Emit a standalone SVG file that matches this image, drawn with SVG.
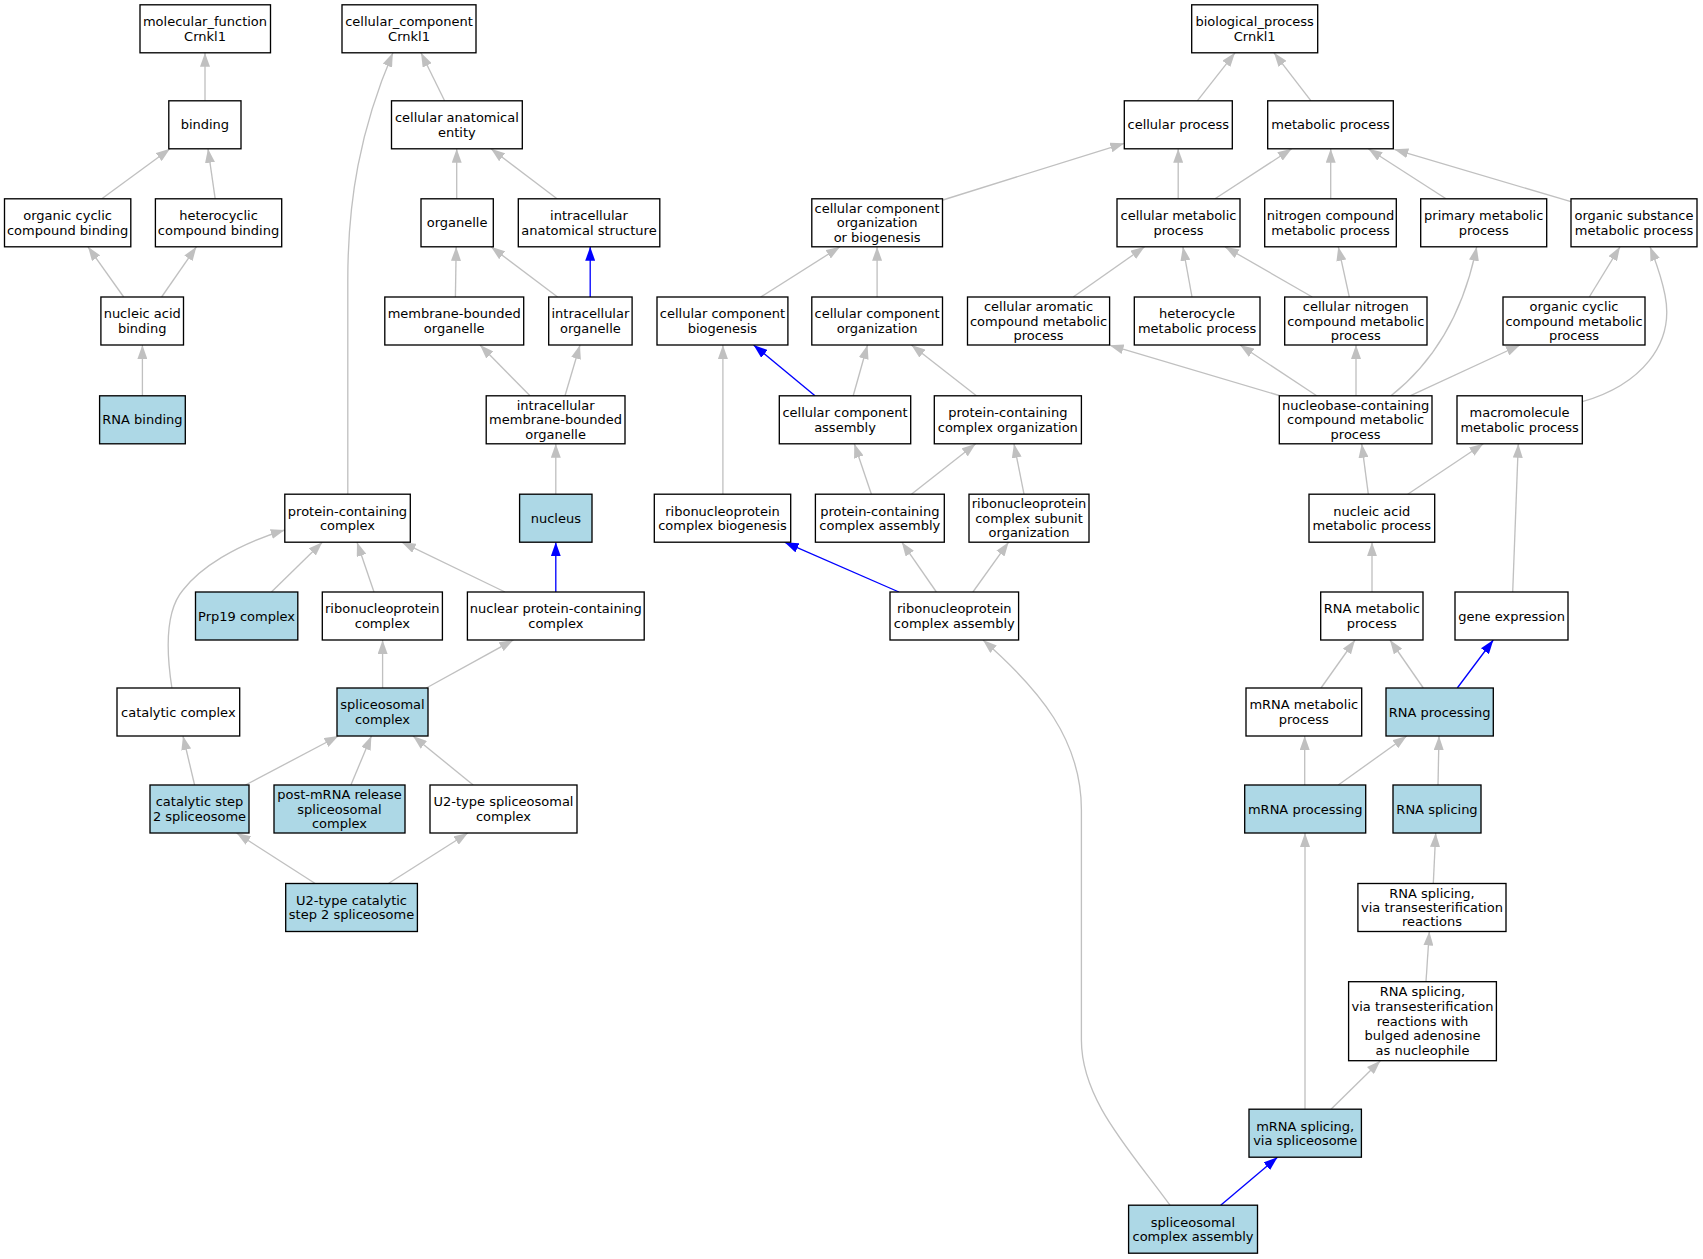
<svg xmlns="http://www.w3.org/2000/svg" width="1703" height="1259" viewBox="0 0 1703 1259">
<style>
.n rect{fill:#ffffff;stroke:#000000;stroke-width:1.33}
.b rect{fill:#add8e6;stroke:#000000;stroke-width:1.33}
text{font-family:"DejaVu Sans","Liberation Sans",sans-serif;font-size:13px;text-anchor:middle;fill:#000000}
#edges path{fill:none;stroke:#c0c0c0;stroke-width:1.33;marker-end:url(#ag)}
#edges path.bl{stroke:#0000ff;marker-end:url(#ab)}
</style>
<defs>
<marker id="ag" markerUnits="userSpaceOnUse" markerWidth="14" markerHeight="10" refX="14" refY="5" orient="auto"><path d="M0,0 L14,5 L0,10 z" fill="#c0c0c0"/></marker>
<marker id="ab" markerUnits="userSpaceOnUse" markerWidth="14" markerHeight="10" refX="14" refY="5" orient="auto"><path d="M0,0 L14,5 L0,10 z" fill="#0000ff"/></marker>
</defs>
<rect x="0" y="0" width="1703" height="1259" fill="#ffffff"/>
<g id="edges">
<path d="M205,100.8 L205,52.8"/>
<path d="M101.8,198.8 L170,148.8"/>
<path d="M215.2,198.8 L208,148.8"/>
<path d="M123.7,297 L88,246.8"/>
<path d="M161.6,297 L196.4,246.8"/>
<path d="M142.4,395.8 L142.4,345"/>
<path d="M444.6,100.8 L421,52.8"/>
<path d="M347.8,494.2 L347.8,280 C347.8,200 360,130 392.9,52.8"/>
<path d="M456.7,198.8 L456.7,148.8"/>
<path d="M557,198.8 L491,148.8"/>
<path d="M455.4,297 L456.2,246.8"/>
<path d="M557.6,297 L491,246.8"/>
<path class="bl" d="M590.2,297 L590.2,246.8"/>
<path d="M530,395.8 L480,345"/>
<path d="M565,395.8 L580,345"/>
<path d="M555.8,494.2 L555.8,443.8"/>
<path d="M271.4,592 L322.3,542.2"/>
<path d="M374,592 L357,542.2"/>
<path d="M505,592 L401.8,542.2"/>
<path class="bl" d="M555.8,592 L555.8,542.2"/>
<path d="M171.9,688 C166,650 166,610 183,590 C200,568 235,545 284.8,530"/>
<path d="M382.6,688 L382.6,640"/>
<path d="M426.3,688 L513.4,640"/>
<path d="M194.6,785 L183,736"/>
<path d="M245.5,785 L338.4,736"/>
<path d="M350.9,785 L371.4,736"/>
<path d="M473.2,785 L413,736"/>
<path d="M315.2,883.5 L236.6,833"/>
<path d="M388.4,883.5 L467.9,833"/>
<path d="M1197.3,100.8 L1235,52.8"/>
<path d="M1311,100.8 L1274,52.8"/>
<path d="M942.9,200 L1124.3,143.3"/>
<path d="M1178.2,198.8 L1178.2,148.8"/>
<path d="M1215,198.8 L1291.7,148.8"/>
<path d="M1330.7,198.8 L1330.7,148.8"/>
<path d="M1446,198.8 L1368.3,148.8"/>
<path d="M1571,201.7 L1394.3,149.3"/>
<path d="M760.7,297 L840,246.8"/>
<path d="M877.1,297 L877.1,246.8"/>
<path d="M1073.2,297 L1144.6,246.8"/>
<path d="M1192,297 L1182.9,246.8"/>
<path d="M1312.3,297 L1225,246.8"/>
<path d="M1349.3,297 L1338.3,246.8"/>
<path class="bl" d="M815,395.8 L753.6,345"/>
<path d="M853.2,395.8 L867.5,345"/>
<path d="M976.4,395.8 L911.4,345"/>
<path d="M722.9,494.2 L722.9,345"/>
<path d="M1279.3,395.5 L1109.6,345.2"/>
<path d="M1316.7,395.8 L1240,345"/>
<path d="M1356,395.8 L1356,345"/>
<path d="M1391,395.8 C1430,365 1462,320 1476.7,246.8"/>
<path d="M1410,395.8 L1520,345"/>
<path d="M1589.3,297 L1620,246.8"/>
<path d="M1582.3,401.7 C1640,385 1675,345 1665,295 C1662,280 1656,262 1650,246.8"/>
<path d="M871.4,494.2 L854.3,443.8"/>
<path d="M911.4,494.2 L975.7,443.8"/>
<path d="M1024,494.2 L1014,443.8"/>
<path d="M1368.3,494.2 L1361.7,443.8"/>
<path d="M1407.7,494.2 L1483.3,443.8"/>
<path class="bl" d="M898.9,592 L784.6,542.2"/>
<path d="M936.4,592 L901.8,542.2"/>
<path d="M972.9,592 L1008.6,542.2"/>
<path d="M1372,592 L1372,542.2"/>
<path d="M1512.7,592 L1518.3,443.8"/>
<path d="M1321,688 L1355,640"/>
<path d="M1423.3,688 L1390,640"/>
<path class="bl" d="M1457.3,688 L1493.3,640"/>
<path d="M1304.7,785 L1304.7,736"/>
<path d="M1338.3,785 L1406.7,736"/>
<path d="M1438,785 L1439,736"/>
<path d="M1433.3,883.5 L1435.7,833"/>
<path d="M1426,981.7 L1429.3,931.5"/>
<path d="M1305,1109.2 L1305,833"/>
<path d="M1331,1109.2 L1380.4,1060.7"/>
<path class="bl" d="M1220.7,1205.2 L1277.5,1157.2"/>
<path d="M1170,1205.2 C1130,1150 1081.4,1100 1081.4,1040 L1081.4,810 C1081.4,740 1040,690 983,640"/>
</g>
<g id="mf" class="n"><rect x="140" y="4.8" width="130.5" height="48"/><text x="205"><tspan x="205" y="26.1">molecular_function</tspan><tspan x="205" y="40.5">Crnkl1</tspan></text></g>
<g id="cc" class="n"><rect x="342" y="4.8" width="134" height="48"/><text><tspan x="409" y="26.1">cellular_component</tspan><tspan x="409" y="40.5">Crnkl1</tspan></text></g>
<g id="bp" class="n"><rect x="1191.7" y="4.8" width="126" height="48"/><text><tspan x="1254.7" y="26.1">biological_process</tspan><tspan x="1254.7" y="40.5">Crnkl1</tspan></text></g>
<g id="binding" class="n"><rect x="168.8" y="100.8" width="72.2" height="48"/><text x="204.9" y="129.3">binding</text></g>
<g id="cae" class="n"><rect x="391.5" y="100.8" width="130.8" height="48"/><text><tspan x="456.9" y="122.1">cellular anatomical</tspan><tspan x="456.9" y="136.5">entity</tspan></text></g>
<g id="cp" class="n"><rect x="1124.3" y="100.8" width="108" height="48"/><text x="1178.3" y="129.3">cellular process</text></g>
<g id="mp" class="n"><rect x="1267.7" y="100.8" width="125.6" height="48"/><text x="1330.5" y="129.3">metabolic process</text></g>
<g id="ocb" class="n"><rect x="4.5" y="198.8" width="126.3" height="48"/><text><tspan x="67.6" y="220.1">organic cyclic</tspan><tspan x="67.6" y="234.5">compound binding</tspan></text></g>
<g id="hcb" class="n"><rect x="155.4" y="198.8" width="126.3" height="48"/><text><tspan x="218.5" y="220.1">heterocyclic</tspan><tspan x="218.5" y="234.5">compound binding</tspan></text></g>
<g id="organelle" class="n"><rect x="421" y="198.8" width="72.3" height="48"/><text x="457.1" y="227.3">organelle</text></g>
<g id="ias" class="n"><rect x="518.3" y="198.8" width="141.5" height="48"/><text><tspan x="589" y="220.1">intracellular</tspan><tspan x="589" y="234.5">anatomical structure</tspan></text></g>
<g id="ccob" class="n"><rect x="811.8" y="198.8" width="130.7" height="48"/><text><tspan x="877.1" y="212.9">cellular component</tspan><tspan x="877.1" y="227.3">organization</tspan><tspan x="877.1" y="241.7">or biogenesis</tspan></text></g>
<g id="cmp" class="n"><rect x="1117" y="198.8" width="123" height="48"/><text><tspan x="1178.5" y="220.1">cellular metabolic</tspan><tspan x="1178.5" y="234.5">process</tspan></text></g>
<g id="ncmp" class="n"><rect x="1264.7" y="198.8" width="131.6" height="48"/><text><tspan x="1330.5" y="220.1">nitrogen compound</tspan><tspan x="1330.5" y="234.5">metabolic process</tspan></text></g>
<g id="pmp" class="n"><rect x="1420.7" y="198.8" width="126" height="48"/><text><tspan x="1483.7" y="220.1">primary metabolic</tspan><tspan x="1483.7" y="234.5">process</tspan></text></g>
<g id="osmp" class="n"><rect x="1571" y="198.8" width="126" height="48"/><text><tspan x="1634" y="220.1">organic substance</tspan><tspan x="1634" y="234.5">metabolic process</tspan></text></g>
<g id="nab" class="n"><rect x="100.9" y="297" width="82.6" height="48"/><text><tspan x="142.2" y="318.3">nucleic acid</tspan><tspan x="142.2" y="332.7">binding</tspan></text></g>
<g id="mbo" class="n"><rect x="384.8" y="297" width="138.9" height="48"/><text><tspan x="454.2" y="318.3">membrane-bounded</tspan><tspan x="454.2" y="332.7">organelle</tspan></text></g>
<g id="io" class="n"><rect x="548.7" y="297" width="83.4" height="48"/><text><tspan x="590.4" y="318.3">intracellular</tspan><tspan x="590.4" y="332.7">organelle</tspan></text></g>
<g id="ccb" class="n"><rect x="657" y="297" width="130.9" height="48"/><text><tspan x="722.4" y="318.3">cellular component</tspan><tspan x="722.4" y="332.7">biogenesis</tspan></text></g>
<g id="cco" class="n"><rect x="811.8" y="297" width="130.7" height="48"/><text><tspan x="877.1" y="318.3">cellular component</tspan><tspan x="877.1" y="332.7">organization</tspan></text></g>
<g id="cacmp" class="n"><rect x="967.5" y="297" width="142.1" height="48"/><text><tspan x="1038.5" y="311.1">cellular aromatic</tspan><tspan x="1038.5" y="325.5">compound metabolic</tspan><tspan x="1038.5" y="339.9">process</tspan></text></g>
<g id="hmp" class="n"><rect x="1134.3" y="297" width="125.7" height="48"/><text><tspan x="1197.1" y="318.3">heterocycle</tspan><tspan x="1197.1" y="332.7">metabolic process</tspan></text></g>
<g id="cncmp" class="n"><rect x="1284.7" y="297" width="142.3" height="48"/><text><tspan x="1355.8" y="311.1">cellular nitrogen</tspan><tspan x="1355.8" y="325.5">compound metabolic</tspan><tspan x="1355.8" y="339.9">process</tspan></text></g>
<g id="occmp" class="n"><rect x="1503" y="297" width="142" height="48"/><text><tspan x="1574" y="311.1">organic cyclic</tspan><tspan x="1574" y="325.5">compound metabolic</tspan><tspan x="1574" y="339.9">process</tspan></text></g>
<g id="rnab" class="b"><rect x="99.6" y="395.8" width="85.7" height="48"/><text x="142.4" y="424.3">RNA binding</text></g>
<g id="imbo" class="n"><rect x="486.2" y="395.8" width="138.8" height="48"/><text><tspan x="555.6" y="409.9">intracellular</tspan><tspan x="555.6" y="424.3">membrane-bounded</tspan><tspan x="555.6" y="438.7">organelle</tspan></text></g>
<g id="cca" class="n"><rect x="779.3" y="395.8" width="131.4" height="48"/><text><tspan x="845" y="417.1">cellular component</tspan><tspan x="845" y="431.5">assembly</tspan></text></g>
<g id="pcco" class="n"><rect x="934.3" y="395.8" width="147.1" height="48"/><text><tspan x="1007.8" y="417.1">protein-containing</tspan><tspan x="1007.8" y="431.5">complex organization</tspan></text></g>
<g id="nbcmp" class="n"><rect x="1279.3" y="395.8" width="152.7" height="48"/><text><tspan x="1355.6" y="409.9">nucleobase-containing</tspan><tspan x="1355.6" y="424.3">compound metabolic</tspan><tspan x="1355.6" y="438.7">process</tspan></text></g>
<g id="mmp" class="n"><rect x="1457" y="395.8" width="125.3" height="48"/><text><tspan x="1519.6" y="417.1">macromolecule</tspan><tspan x="1519.6" y="431.5">metabolic process</tspan></text></g>
<g id="pcc" class="n"><rect x="284.8" y="494.2" width="125.5" height="48"/><text><tspan x="347.5" y="515.5">protein-containing</tspan><tspan x="347.5" y="529.9">complex</tspan></text></g>
<g id="nucleus" class="b"><rect x="519.6" y="494.2" width="72.4" height="48"/><text x="555.8" y="522.7">nucleus</text></g>
<g id="rcb" class="n"><rect x="654.3" y="494.2" width="136.4" height="48"/><text><tspan x="722.5" y="515.5">ribonucleoprotein</tspan><tspan x="722.5" y="529.9">complex biogenesis</tspan></text></g>
<g id="pcca" class="n"><rect x="815.4" y="494.2" width="128.9" height="48"/><text><tspan x="879.8" y="515.5">protein-containing</tspan><tspan x="879.8" y="529.9">complex assembly</tspan></text></g>
<g id="rcso" class="n"><rect x="969" y="494.2" width="120" height="48"/><text><tspan x="1029" y="508.3">ribonucleoprotein</tspan><tspan x="1029" y="522.7">complex subunit</tspan><tspan x="1029" y="537.1">organization</tspan></text></g>
<g id="namp" class="n"><rect x="1309" y="494.2" width="125.7" height="48"/><text><tspan x="1371.8" y="515.5">nucleic acid</tspan><tspan x="1371.8" y="529.9">metabolic process</tspan></text></g>
<g id="prp19" class="b"><rect x="195.5" y="592" width="102.3" height="48"/><text x="246.6" y="620.5">Prp19 complex</text></g>
<g id="rc" class="n"><rect x="322.3" y="592" width="120.1" height="48"/><text><tspan x="382.3" y="613.3">ribonucleoprotein</tspan><tspan x="382.3" y="627.7">complex</tspan></text></g>
<g id="npcc" class="n"><rect x="467.4" y="592" width="176.8" height="48"/><text><tspan x="555.8" y="613.3">nuclear protein-containing</tspan><tspan x="555.8" y="627.7">complex</tspan></text></g>
<g id="rca" class="n"><rect x="890" y="592" width="128.6" height="48"/><text><tspan x="954.3" y="613.3">ribonucleoprotein</tspan><tspan x="954.3" y="627.7">complex assembly</tspan></text></g>
<g id="rmp" class="n"><rect x="1320.7" y="592" width="102.3" height="48"/><text><tspan x="1371.8" y="613.3">RNA metabolic</tspan><tspan x="1371.8" y="627.7">process</tspan></text></g>
<g id="ge" class="n"><rect x="1455" y="592" width="113" height="48"/><text x="1511.5" y="620.5">gene expression</text></g>
<g id="catc" class="n"><rect x="117" y="688" width="122.7" height="48"/><text x="178.3" y="716.5">catalytic complex</text></g>
<g id="sc" class="b"><rect x="337" y="688" width="91" height="48"/><text><tspan x="382.5" y="709.3">spliceosomal</tspan><tspan x="382.5" y="723.7">complex</tspan></text></g>
<g id="mrmp" class="n"><rect x="1246" y="688" width="115.7" height="48"/><text><tspan x="1303.8" y="709.3">mRNA metabolic</tspan><tspan x="1303.8" y="723.7">process</tspan></text></g>
<g id="rp" class="b"><rect x="1386" y="688" width="107.3" height="48"/><text x="1439.6" y="716.5">RNA processing</text></g>
<g id="cs2" class="b"><rect x="150" y="785" width="99" height="48"/><text><tspan x="199.5" y="806.3">catalytic step</tspan><tspan x="199.5" y="820.7">2 spliceosome</tspan></text></g>
<g id="pmr" class="b"><rect x="274" y="785" width="131" height="48"/><text><tspan x="339.5" y="799.1">post-mRNA release</tspan><tspan x="339.5" y="813.5">spliceosomal</tspan><tspan x="339.5" y="827.9">complex</tspan></text></g>
<g id="u2sc" class="n"><rect x="430" y="785" width="147" height="48"/><text><tspan x="503.5" y="806.3">U2-type spliceosomal</tspan><tspan x="503.5" y="820.7">complex</tspan></text></g>
<g id="mrp" class="b"><rect x="1244.7" y="785" width="121" height="48"/><text x="1305.2" y="813.5">mRNA processing</text></g>
<g id="rs" class="b"><rect x="1393" y="785" width="88" height="48"/><text x="1437" y="813.5">RNA splicing</text></g>
<g id="u2cs2" class="b"><rect x="285.7" y="883.5" width="131.7" height="48"/><text><tspan x="351.5" y="904.8">U2-type catalytic</tspan><tspan x="351.5" y="919.2">step 2 spliceosome</tspan></text></g>
<g id="rsvt" class="n"><rect x="1357.9" y="883.5" width="148.1" height="48"/><text><tspan x="1432" y="897.6">RNA splicing,</tspan><tspan x="1432" y="912">via transesterification</tspan><tspan x="1432" y="926.4">reactions</tspan></text></g>
<g id="rsvtb" class="n"><rect x="1348.6" y="981.7" width="147.8" height="79"/><text><tspan x="1422.5" y="996.4">RNA splicing,</tspan><tspan x="1422.5" y="1011">via transesterification</tspan><tspan x="1422.5" y="1025.6">reactions with</tspan><tspan x="1422.5" y="1040.2">bulged adenosine</tspan><tspan x="1422.5" y="1054.8">as nucleophile</tspan></text></g>
<g id="msvs" class="b"><rect x="1249" y="1109.2" width="112.4" height="48"/><text><tspan x="1305.2" y="1130.5">mRNA splicing,</tspan><tspan x="1305.2" y="1144.9">via spliceosome</tspan></text></g>
<g id="sca" class="b"><rect x="1128.6" y="1205.2" width="128.9" height="48"/><text><tspan x="1193" y="1226.5">spliceosomal</tspan><tspan x="1193" y="1240.9">complex assembly</tspan></text></g>
</svg>
